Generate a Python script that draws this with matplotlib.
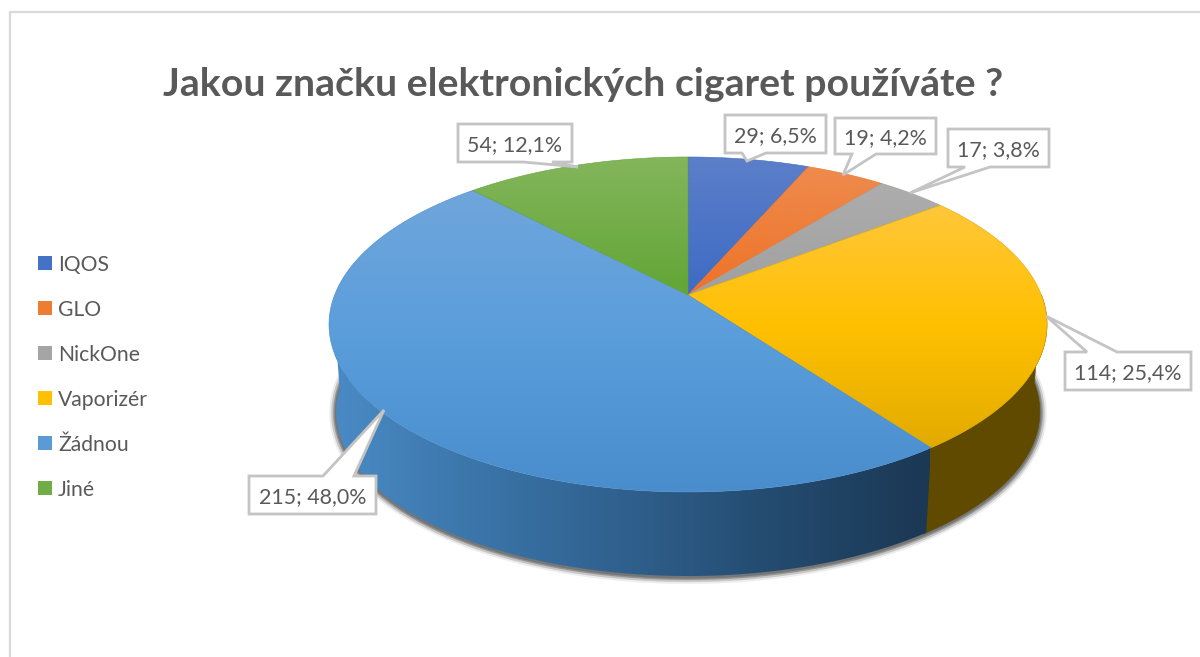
import numpy as np
import matplotlib
matplotlib.use("Agg")
import matplotlib.pyplot as plt
from matplotlib.colors import LinearSegmentedColormap
from matplotlib.patches import Polygon, Rectangle

categories = ["IQOS", "GLO", "NickOne", "Vaporizér", "Žádnou", "Jiné"]
values = [29, 19, 17, 114, 215, 54]
value_labels = ["29; 6,5%", "19; 4,2%", "17; 3,8%", "114; 25,4%", "215; 48,0%", "54; 12,1%"]
title = "Jakou značku elektronických cigaret používáte ?"

plt.rcParams['font.family'] = ['Lato', 'DejaVu Sans']
fig = plt.figure(figsize=(12, 6.57), dpi=100)
ax = fig.add_axes([0, 0, 1, 1])
ax.set_xlim(0, 1200)
ax.set_ylim(657, 0)
ax.axis('off')

X0, Y0, A, B, K = 688, 295, 162.3, 353.4, 0.176
SC, DEPTH = 0.98, 88
GRID = '#d9d9d9'
TXT = '#595959'

def project(th):
    u, v = np.sin(th), np.cos(th)
    d = 1 + K * v
    return X0 + B * u / d, Y0 - A * v / d

def lower(x, y):
    return X0 + SC * (x - X0), Y0 + SC * (y - Y0) + DEPTH

# frame
ax.plot([10, 10, 1200], [657, 12, 12], color=GRID, lw=1.6, zorder=1)

fracs = np.array(values) / np.sum(values)
edges = np.concatenate([[0], np.cumsum(fracs)]) * 2 * np.pi

# shadow around the rim
th = np.radians(np.linspace(85, 275, 300))
sx, sy = lower(*project(th))
for lw, al in [(10, .08), (7.2, .19), (4.3, .30), (2.2, .25)]:
    ax.plot(sx, sy + 1, color='#202020', lw=lw, alpha=al, zorder=2, solid_capstyle='round')

# side wall
side_blue = LinearSegmentedColormap.from_list('sb', ['#4a8ac4', '#3a74a8', '#2f5f8c', '#234a6e', '#1b3854'])
for i in [3, 4]:
    a0 = max(edges[i], np.radians(90))
    a1 = min(edges[i + 1], np.radians(268))
    if i == 3:
        a1 += 0.01
    ts = np.linspace(a0, a1, 300)
    x, y = project(ts)
    xl, yl = lower(x, y)
    wx = np.r_[x, xl[::-1]]
    wy = np.r_[y, yl[::-1]]
    if i == 3:
        ax.fill(wx, wy, color='#5f4a00', lw=0.4, zorder=3)
    else:
        wall = Polygon(np.c_[wx, wy], closed=True, fc='none', ec='none', transform=ax.transData)
        ax.add_patch(wall)
        im = ax.imshow(np.linspace(0, 1, 256)[None, :], cmap=side_blue,
                       extent=[335, 930, wy.max(), wy.min()], aspect='auto',
                       zorder=3, interpolation='bilinear')
        im.set_clip_path(wall)

# top surface with vertical gradients
stops = [
    ['#5c7fc9', '#3d6bc4'],
    ['#ee8b4e', '#ee7226'],
    ['#adadad', '#a0a0a0'],
    ['#ffc73a', '#ffc000', '#e2ab00'],
    ['#6fa6dc', '#5a9ddb', '#4a8dcc'],
    ['#84b65c', '#62a535'],
]
for i, cols in enumerate(stops):
    ts = np.linspace(edges[i], edges[i + 1], 200)
    x, y = project(ts)
    px = np.r_[X0, x]
    py = np.r_[Y0, y]
    poly = Polygon(np.c_[px, py], closed=True, fc='none', ec='none', transform=ax.transData)
    ax.add_patch(poly)
    ext = [px.min(), px.max(), py.max(), py.min()]
    cmap = LinearSegmentedColormap.from_list(f'c{i}', cols)
    im = ax.imshow(np.linspace(0, 1, 256)[:, None], cmap=cmap, extent=ext, aspect='auto',
                   origin='upper', zorder=4, interpolation='bilinear')
    im.set_clip_path(poly)
    ax.fill(px, py, fc='none', ec=cols[-1], lw=0.4, zorder=4)
ax.set_xlim(0, 1200)
ax.set_ylim(657, 0)

# data label callouts: box (x0, y0, x1, y1), tail base on the box edge, tip
boxes = [(725, 115, 826, 153), (835, 118, 936, 154), (948, 129, 1049, 167),
         (1065, 352, 1191, 390), (249, 476, 376, 514), (458, 124, 572, 162)]
tails = [((742, 153), (766, 153), (747, 161)),
         ((852, 154), (876, 154), (843, 175)),
         ((965, 167), (990, 167), (910, 193)),
         ((1087, 352), (1117, 352), (1046, 316)),
         ((323, 476), (354, 476), (384, 410)),
         ((523, 162), (552, 162), (578, 167))]
for lab, (x0, y0, x1, y1), (b0, b1, tip) in zip(value_labels, boxes, tails):
    if b0[1] == y1:
        pts = [(x0, y0), (x1, y0), (x1, y1), b1, tip, b0, (x0, y1)]
    else:
        pts = [(x0, y0), b0, tip, b1, (x1, y0), (x1, y1), (x0, y1)]
    ax.add_patch(Polygon(pts, closed=True, fc='white', ec='#c4c4c4', lw=2, zorder=6, joinstyle='miter'))
    ax.text((x0 + x1) / 2, (y0 + y1) / 2, lab, ha='center', va='center_baseline',
            fontsize=15.4, color=TXT, zorder=7)

# legend
leg_cols = ['#4472c4', '#ed7d31', '#a5a5a5', '#ffc000', '#5b9bd5', '#70ad47']
for i, (cat, c) in enumerate(zip(categories, leg_cols)):
    yc = 263 + 45 * i
    ax.add_patch(Rectangle((38, yc - 7), 14, 14, fc=c, ec='none', zorder=5))
    ax.text(58, yc, cat, ha='left', va='center_baseline', fontsize=15.2, color=TXT, zorder=5)

ax.text(583, 82, title, ha='center', va='center_baseline', fontsize=28.3,
        fontweight='bold', color=TXT, zorder=5)

fig.savefig('out.png', dpi=100)
